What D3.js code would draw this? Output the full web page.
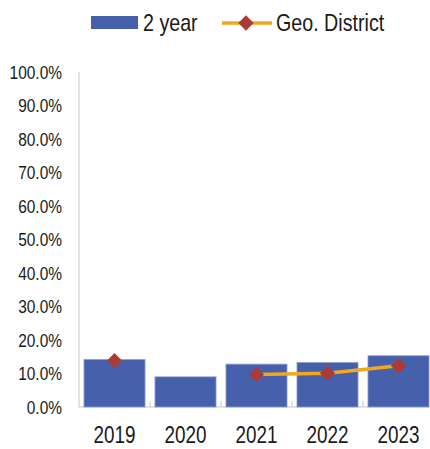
<!DOCTYPE html>
<html>
<head>
<meta charset="utf-8">
<script src="https://cdn.jsdelivr.net/npm/d3@7"></script>
<style>
  html, body { margin: 0; padding: 0; background: #fff; }
  svg { display: block; }
  text { font-family: "Liberation Sans", Arial, sans-serif; fill: #1a1a1a; }
</style>
</head>
<body>
<svg id="chart" width="430" height="449"></svg>
<script>
// Yearly share values (fractions)
const years = ["2019", "2020", "2021", "2022", "2023"];
const twoYear = [0.142, 0.090, 0.128, 0.133, 0.153];
const geoDistrict = [0.138, null, 0.097, 0.101, 0.123];
const yTicks = [0, 0.1, 0.2, 0.3, 0.4, 0.5, 0.6, 0.7, 0.8, 0.9, 1.0];
const seriesNames = ["2 year", "Geo. District"];

const W = 430, H = 449;
const margin = { left: 79, right: -4, top: 72, bottom: 42 };
const svg = d3.select("#chart");

// Condensed text: regular sans squeezed horizontally
function narrowText(g, px, py, str, size, anchor, sx) {
  return g.append("text")
    .attr("transform", `translate(${px},${py}) scale(${sx || 0.82},1)`)
    .attr("text-anchor", anchor || "start")
    .style("font-size", size + "px")
    .text(str);
}

const x = d3.scaleBand()
  .domain(years)
  .range([margin.left, W - margin.right])
  .paddingInner(0.14)
  .paddingOuter(0.07);

const y = d3.scaleLinear()
  .domain([0, 1])
  .range([H - margin.bottom, margin.top]);

const axisColor = "#d9d9d9";
const fmt = d3.format(".1%");

// Y axis: light vertical line and labels
const yg = svg.append("g");
yg.append("line")
  .attr("x1", margin.left).attr("x2", margin.left)
  .attr("y1", y(1)).attr("y2", y(0))
  .attr("stroke", axisColor).attr("stroke-width", 1.5);
yTicks.forEach(t => narrowText(yg, 62, y(t) + 6.5, fmt(t), 18, "end", 0.86));

// X axis with tick marks between categories
const x0 = y(0);
const gap = x.step() - x.bandwidth();
const xg = svg.append("g");
xg.append("line")
  .attr("x1", margin.left).attr("x2", W)
  .attr("y1", x0).attr("y2", x0)
  .attr("stroke", axisColor).attr("stroke-width", 1.5);
xg.selectAll("line.tick")
  .data(years.slice(1))
  .join("line")
  .attr("class", "tick")
  .attr("x1", d => x(d) - gap / 2)
  .attr("x2", d => x(d) - gap / 2)
  .attr("y1", x0).attr("y2", x0 - 6)
  .attr("stroke", axisColor).attr("stroke-width", 1.5);
years.forEach(d => narrowText(xg, x(d) + x.bandwidth() / 2, 443, d, 23, "middle"));

// Bars
const barColor = "#4660ac";
svg.append("g")
  .selectAll("rect")
  .data(years.map((yr, i) => ({ yr, v: twoYear[i] })))
  .join("rect")
  .attr("x", d => x(d.yr))
  .attr("width", x.bandwidth())
  .attr("y", d => y(d.v))
  .attr("height", d => y(0) - y(d.v))
  .attr("fill", barColor)
  .attr("stroke", "#8fa0d4")
  .attr("stroke-width", 0.8);

// Line series with a gap for missing years
const lineColor = "#f2a81d";
const markerColor = "#a93c36";
const pts = years.map((yr, i) => ({ yr, v: geoDistrict[i] }));
const line = d3.line()
  .defined(d => d.v != null)
  .x(d => x(d.yr) + x.bandwidth() / 2)
  .y(d => y(d.v));
svg.append("path")
  .datum(pts)
  .attr("d", line)
  .attr("fill", "none")
  .attr("stroke", lineColor)
  .attr("stroke-width", 3.5);

const diamond = d3.symbol().type(d3.symbolDiamond2).size(150);
svg.append("g")
  .selectAll("path")
  .data(pts.filter(d => d.v != null))
  .join("path")
  .attr("transform", d => `translate(${x(d.yr) + x.bandwidth() / 2},${y(d.v)})`)
  .attr("d", diamond)
  .attr("fill", markerColor);

// Legend
const lg = svg.append("g");
lg.append("rect").attr("x", 91).attr("y", 16).attr("width", 47).attr("height", 13).attr("fill", barColor);
narrowText(lg, 143, 31, seriesNames[0], 24);
lg.append("line").attr("x1", 222).attr("x2", 272).attr("y1", 23).attr("y2", 23)
  .attr("stroke", lineColor).attr("stroke-width", 3.5);
lg.append("path").attr("transform", "translate(246,23)").attr("d", diamond).attr("fill", markerColor);
narrowText(lg, 276, 31, seriesNames[1], 24);
</script>
</body>
</html>
